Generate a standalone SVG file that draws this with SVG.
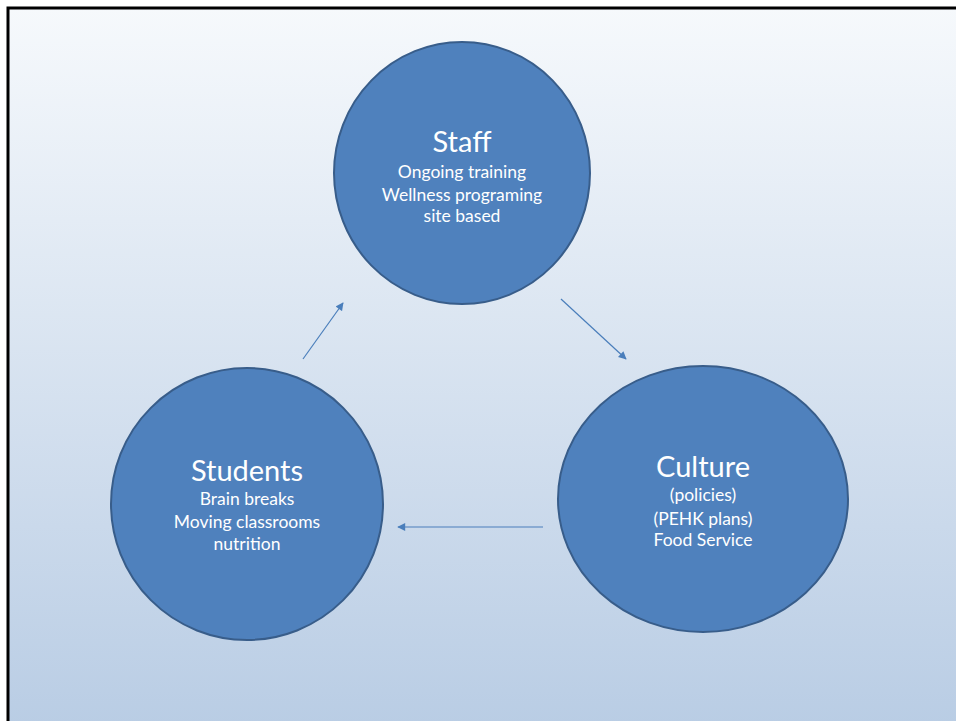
<svg xmlns="http://www.w3.org/2000/svg" width="956" height="721" viewBox="0 0 956 721">
  <defs>
    <linearGradient id="bg" x1="0" y1="0" x2="0" y2="1">
      <stop offset="0" stop-color="#f6f9fc"/>
      <stop offset="1" stop-color="#b8cce4"/>
    </linearGradient>
    <marker id="ah" viewBox="0 0 10 10" refX="9" refY="5" markerWidth="9" markerHeight="8" orient="auto" markerUnits="userSpaceOnUse">
      <path d="M0,0 L10,5 L0,10 z" fill="#4a7ebb"/>
    </marker>
    <style>
      .node{fill:#4f81bd;stroke:#385d8a;stroke-width:2}
      .t{font-family:Lato,"Open Sans",sans-serif;fill:#ffffff;text-anchor:middle}
      .h{font-size:29px}
      .s{font-size:17.5px}
      .c{stroke:#4a7ebb;stroke-width:1.2;fill:none}
    </style>
  </defs>
  <rect width="956" height="721" fill="#ffffff"/>
  <rect x="8" y="8" width="960" height="730" fill="url(#bg)" stroke="#000000" stroke-width="3"/>
  <g id="connectors">
    <line class="c" x1="303" y1="359" x2="343" y2="303" marker-end="url(#ah)"/>
    <line class="c" x1="561" y1="299" x2="626" y2="359" marker-end="url(#ah)"/>
    <line class="c" x1="543" y1="527" x2="398" y2="527" marker-end="url(#ah)"/>
  </g>
  <g id="staff">
    <ellipse class="node" cx="462" cy="173" rx="128" ry="131"/>
    <text class="t h" x="462" y="152">Staff</text>
    <text class="t s" x="462" y="178">Ongoing training</text>
    <text class="t s" x="462" y="201">Wellness programing</text>
    <text class="t s" x="462" y="222">site based</text>
  </g>
  <g id="students">
    <ellipse class="node" cx="247" cy="504" rx="136" ry="136"/>
    <text class="t h" x="247" y="481">Students</text>
    <text class="t s" x="247" y="505">Brain breaks</text>
    <text class="t s" x="247" y="528">Moving classrooms</text>
    <text class="t s" x="247" y="550">nutrition</text>
  </g>
  <g id="culture">
    <ellipse class="node" cx="703" cy="499" rx="145" ry="133"/>
    <text class="t h" x="703" y="477">Culture</text>
    <text class="t s" x="703" y="501">(policies)</text>
    <text class="t s" x="703" y="525">(PEHK plans)</text>
    <text class="t s" x="703" y="546">Food Service</text>
  </g>
</svg>
